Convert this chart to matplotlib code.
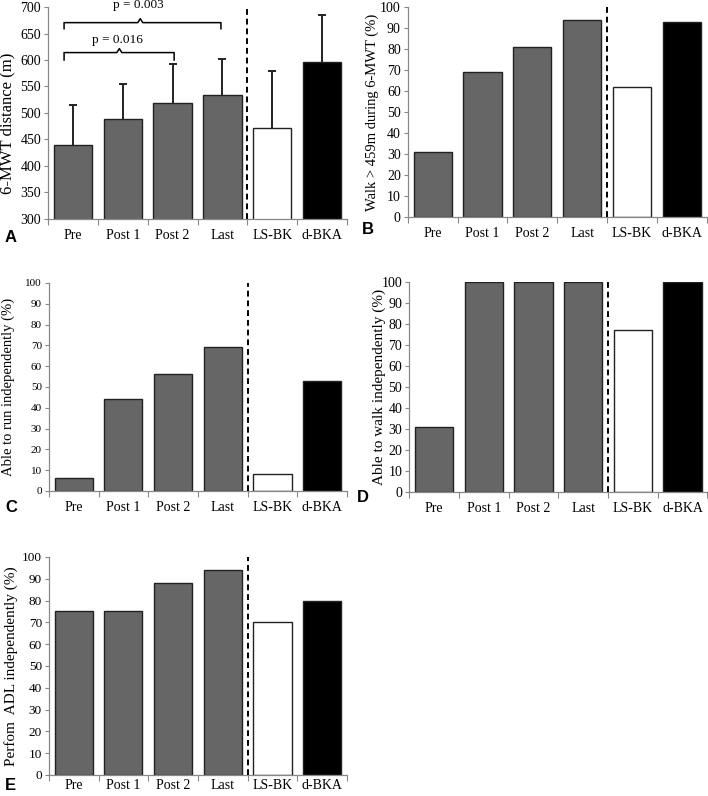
import matplotlib
matplotlib.use("Agg")
import matplotlib.pyplot as plt
import numpy as np

plt.rcParams['font.family'] = ['Liberation Serif', 'DejaVu Serif']

categories = ["Pre", "Post 1", "Post 2", "Last", "LS-BK", "d-BKA"]

# panel A: 6-MWT distance (mean, upper error bar end)
dist_mean = [439, 488, 519, 534, 471, 596]
dist_top = [515, 554, 592, 601, 580, 684]

walk_459 = [31, 69, 81, 94, 62, 93]
run_indep = [6, 44, 56, 69, 8, 53]
walk_indep = [31, 100, 100, 100, 77, 100]
adl_indep = [75, 75, 88, 94, 70, 80]

# significance brackets: (x start, x end, x peak, y level, y ends, y peak, label, y label)
brackets = [
    (-0.18, 2.03, 0.93, 614, 600, 621.5, "p = 0.016", 638),
    (-0.18, 2.97, 1.35, 670.5, 659, 678, "p = 0.003", 703),
]

colors = ["#666666"] * 4 + ["white", "black"]


def draw_panel(ax, values, ylim, yticks, ylabel, ytick_size, ylabel_size, label_x,
               label_y=0.5, err_top=None, xpad=7):
    x = np.arange(len(categories))
    ax.bar(x, values, width=0.77, color=colors, edgecolor="#222222", linewidth=1.0, zorder=2)
    if err_top is not None:
        err = np.array(err_top) - np.array(values)
        _, caps, _ = ax.errorbar(x, values, yerr=[np.zeros(len(err)), err], fmt="none",
                                 ecolor="#222222", elinewidth=1.4, capsize=3, capthick=1.4, zorder=1)
        caps[0].set_visible(False)
    ax.axvline(3.5, color="black", linestyle=(0, (3, 2)), linewidth=1.4, zorder=3)
    ax.set_xlim(-0.5, 5.5)
    ax.set_ylim(*ylim)
    ax.set_yticks(yticks)
    ax.set_xticks(x)
    ax.set_xticklabels(categories, fontsize=10)
    ax.set_xticks(np.arange(-0.5, 6, 1), minor=True)
    ax.tick_params(axis="x", which="major", length=0, pad=xpad)
    ax.tick_params(axis="x", which="minor", length=4, width=0.8, color="#888888")
    ax.tick_params(axis="y", length=3, width=0.8, color="#888888", labelsize=ytick_size, pad=2)
    for side in ["top", "right"]:
        ax.spines[side].set_visible(False)
    for side in ["left", "bottom"]:
        ax.spines[side].set_color("#888888")
        ax.spines[side].set_linewidth(0.9)
    ax.set_ylabel(ylabel, fontsize=ylabel_size)
    ax.yaxis.set_label_coords(label_x, label_y)


fig = plt.figure(figsize=(7.08, 7.96), dpi=100)

axA = fig.add_axes([0.068, 0.7249, 0.422, 0.2663])
draw_panel(axA, dist_mean, (300, 700), range(300, 701, 50), "6-MWT distance (m)", 10, 12, -0.11, 0.45, dist_top)
for x0, x1, xp, yl, ye, ypk, txt, ty in brackets:
    axA.plot([x0, x0, xp - 0.05, xp, xp + 0.05, x1, x1], [ye, yl, yl, ypk, yl, yl, ye],
             color="black", linewidth=1.1, clip_on=False, solid_joinstyle="round")
    axA.text(xp - 0.04, ty, txt, ha="center", va="center", fontsize=9.5, clip_on=False)

axB = fig.add_axes([0.576, 0.7274, 0.422, 0.2638])
draw_panel(axB, walk_459, (0, 100), range(0, 101, 10), "Walk > 459m during 6-MWT (%)", 10, 10.5, -0.097)

axC = fig.add_axes([0.069, 0.3832, 0.421, 0.2613])
draw_panel(axC, run_indep, (0, 100), range(0, 101, 10), "Able to run independently (%)", 8, 10.5, -0.114)

axD = fig.add_axes([0.578, 0.3819, 0.421, 0.2638])
draw_panel(axD, walk_indep, (0, 100), range(0, 101, 10), "Able to walk independently (%)", 10, 11, -0.077)

axE = fig.add_axes([0.069, 0.0264, 0.421, 0.2739])
draw_panel(axE, adl_indep, (0, 100), range(0, 101, 10), "Perfom  ADL independently (%)", 9.5, 11, -0.104,
           xpad=3)

panel_letters = [("A", 5, 237), ("B", 362, 230), ("C", 5, 507), ("D", 357, 498), ("E", 5, 785)]
for letter, px, py in panel_letters:
    fig.text(px / 708, 1 - py / 796, letter, fontsize=12, fontweight="bold",
             family=["Liberation Sans", "DejaVu Sans"], ha="left", va="center")

fig.savefig("out.png", dpi=100)
